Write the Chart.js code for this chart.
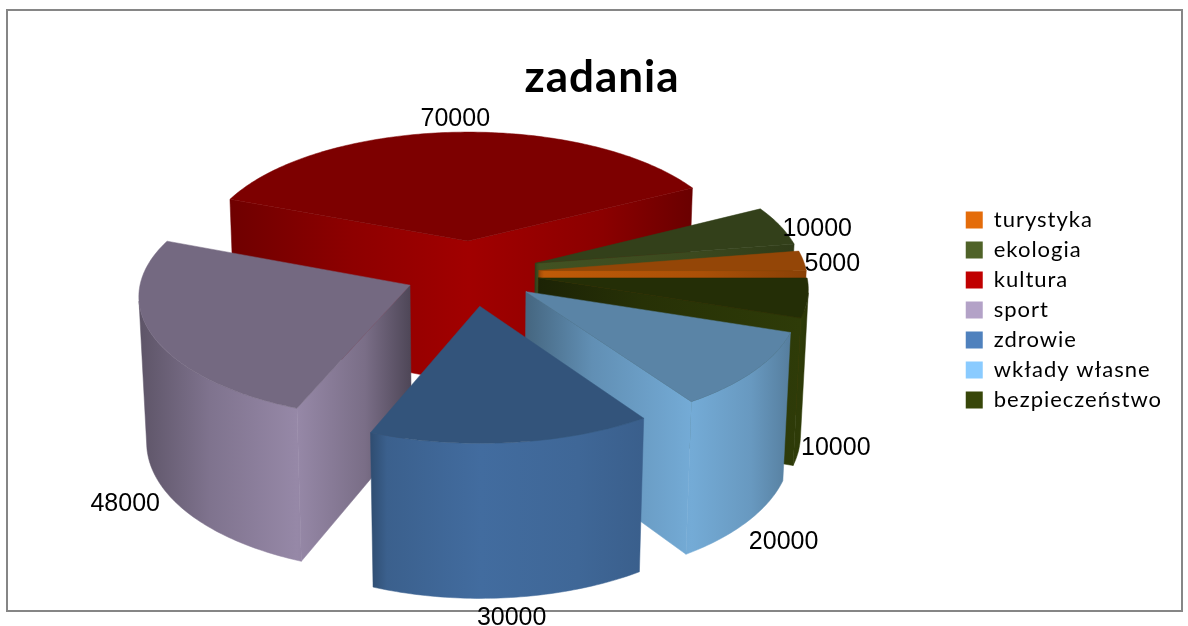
<!DOCTYPE html>
<html>
<head>
<meta charset="utf-8">
<title>zadania</title>
<script src="https://cdn.jsdelivr.net/npm/chart.js@4"></script>
<style>
  html, body { margin: 0; padding: 0; background: #fff; }
  #wrap { width: 1188px; height: 626px; }
</style>
</head>
<body>
<div id="wrap"><canvas id="chart" width="1188" height="626"></canvas></div>
<script>
const categories = ["turystyka", "ekologia", "kultura", "sport", "zdrowie", "wkłady własne", "bezpieczeństwo"];
const values = [5000, 10000, 70000, 48000, 30000, 20000, 10000];
const colors = ["#E46C0A", "#4F6228", "#C00000", "#B3A2C7", "#4F81BD", "#8ACBFF", "#374609"];

// how far each slice is pulled out, px
const explode = [67, 67, 72, 67, 72, 67, 67];
// wall brightness at the left end, at the right end, and where the left ramp bends
const edgeShade = [[0.6, 0.6, 0.4], [0.6, 0.6, 0.4], [0.58, 0.55, 0.5], [0.52, 0.44, 0.45], [0.6, 0.74, 0.15], [0.5, 0.62, 0.4], [0.5, 0.72, 0.4]];

// camera for the fake 3D view
const viewX = 472;
const viewY = 273;
const tilt = 27 * Math.PI / 180;
const camDist = 11.9;
const pieHeight = 0.62;

// label position relative to the outer edge of each slice, in px
const labelShift = [[29, 3], [37, 3], [1, -13], [-35, 20], [1, 21], [36, 21], [36, 4]];

function shade(hex, f) {
  const n = parseInt(hex.slice(1), 16);
  const r = Math.round((n >> 16 & 255) * f);
  const g = Math.round((n >> 8 & 255) * f);
  const b = Math.round((n & 255) * f);
  return `rgb(${r},${g},${b})`;
}

function project(x, y, z, radius) {
  const s = camDist / (camDist - (y * Math.cos(tilt) + z * Math.sin(tilt)));
  return {
    x: viewX + radius * x * s,
    y: viewY + radius * (y * Math.sin(tilt) - z * Math.cos(tilt)) * s
  };
}

function poly(ctx, pts, fill) {
  ctx.beginPath();
  pts.forEach((p, i) => i ? ctx.lineTo(p.x, p.y) : ctx.moveTo(p.x, p.y));
  ctx.closePath();
  ctx.fillStyle = fill;
  ctx.fill();
  ctx.strokeStyle = fill;
  ctx.lineWidth = 0.5;
  ctx.stroke();
}

function drawSlice(ctx, arc, color, edges) {
  const R = arc.outerRadius;
  const a0 = arc.startAngle;
  const a1 = arc.endAngle;
  const mid = (a0 + a1) / 2;
  const off = arc.options.offset / R;
  const ox = off * Math.cos(mid);
  const oy = -off * Math.sin(mid);
  const camY = camDist * Math.cos(tilt);

  const steps = Math.max(2, Math.ceil((a1 - a0) * 180 / Math.PI));
  const top = [];
  const wallTop = [];
  const wallBottom = [];
  for (let i = 0; i <= steps; i++) {
    const a = a0 + (a1 - a0) * i / steps;
    const x = ox + Math.cos(a);
    const y = oy - Math.sin(a);
    top.push(project(x, y, 0, R));
    // outer wall only where it faces the camera
    if (Math.cos(a) * (0 - x) + (-Math.sin(a)) * (camY - y) > 0) {
      wallTop.push(project(x, y, 0, R));
      wallBottom.push(project(x, y, -pieHeight, R));
    }
  }
  const apex = project(ox, oy, 0, R);
  const apexLow = project(ox, oy, -pieHeight, R);

  // horizontal shading, brightest at the point nearest to the viewer
  const outline = [apex, ...top];
  const minX = Math.min(...outline.map(p => p.x));
  const maxX = Math.max(...outline.map(p => p.x));
  const front = outline.reduce((m, p) => p.y > m.y ? p : m, outline[0]);
  const g = ctx.createLinearGradient(minX, 0, maxX, 0);
  const peak = Math.min(0.98, Math.max(0.02, (front.x - minX) / (maxX - minX)));
  const crest = 0.84;
  g.addColorStop(0, shade(color, edges[0]));
  g.addColorStop(peak * edges[2], shade(color, edges[0] + (crest - edges[0]) * 0.6));
  g.addColorStop(peak, shade(color, crest));
  g.addColorStop(peak + (1 - peak) * 0.6, shade(color, edges[1] + (crest - edges[1]) * 0.6));
  g.addColorStop(1, shade(color, edges[1]));

  // flat cut faces
  [[a0, 1], [a1, -1]].forEach(([a, sign]) => {
    const nx = sign * Math.sin(a);
    const ny = sign * Math.cos(a);
    const x = ox + Math.cos(a);
    const y = oy - Math.sin(a);
    if (nx * (0 - x) + ny * (camY - y) > 0) {
      poly(ctx, [apex, project(x, y, 0, R), project(x, y, -pieHeight, R), apexLow], g);
    }
  });

  if (wallTop.length > 1) {
    poly(ctx, [...wallTop, ...wallBottom.reverse()], g);
  }
  poly(ctx, outline, shade(color, 0.65));
}

const pie3d = {
  id: "pie3d",
  // the reference text is slightly spaced out
  beforeLayout(chart) {
    chart.ctx.letterSpacing = "1px";
  },
  beforeDraw(chart) {
    const ctx = chart.ctx;
    ctx.letterSpacing = "1px";
    ctx.save();
    ctx.strokeStyle = "#868686";
    ctx.lineWidth = 2;
    ctx.strokeRect(7, 10, 1175, 601);
    ctx.restore();
  },
  beforeDatasetsDraw(chart) {
    const ctx = chart.ctx;
    const arcs = chart.getDatasetMeta(0).data;
    const order = arcs.map((arc, i) => i).sort((a, b) => {
      const ma = (arcs[a].startAngle + arcs[a].endAngle) / 2;
      const mb = (arcs[b].startAngle + arcs[b].endAngle) / 2;
      return Math.sin(mb) - Math.sin(ma);
    });
    ctx.save();
    order.forEach(i => drawSlice(ctx, arcs[i], colors[i], edgeShade[i]));

    // value labels
    ctx.letterSpacing = "0px";
    ctx.font = "25px 'Liberation Sans'";
    ctx.fillStyle = "#000";
    ctx.textAlign = "center";
    ctx.textBaseline = "middle";
    arcs.forEach((arc, i) => {
      const R = arc.outerRadius;
      const mid = (arc.startAngle + arc.endAngle) / 2;
      const off = arc.options.offset / R;
      const x = (1 + off) * Math.cos(mid);
      const y = -(1 + off) * Math.sin(mid);
      const p = project(x, y, y > 0 ? -pieHeight : 0, R);
      ctx.fillText(values[i], p.x + labelShift[i][0], p.y + labelShift[i][1]);
    });
    ctx.restore();
    return false;
  }
};

new Chart(document.getElementById("chart"), {
  type: "pie",
  data: {
    labels: categories,
    datasets: [{
      data: values,
      backgroundColor: colors,
      offset: explode,
      borderWidth: 0
    }]
  },
  options: {
    responsive: false,
    animation: false,
    rotation: 90,
    radius: 268,
    layout: { padding: { left: 32, right: 16, top: 51, bottom: 57 } },
    plugins: {
      tooltip: { enabled: false },
      title: {
        display: true,
        text: "zadania",
        color: "#000",
        font: { family: "Lato", size: 44, weight: "bold" },
        padding: 0
      },
      legend: {
        position: "right",
        labels: {
          color: "#000",
          font: { family: "Lato", size: 22 },
          boxWidth: 17,
          boxHeight: 17,
          padding: 8
        }
      }
    }
  },
  plugins: [pie3d]
});
</script>
</body>
</html>
